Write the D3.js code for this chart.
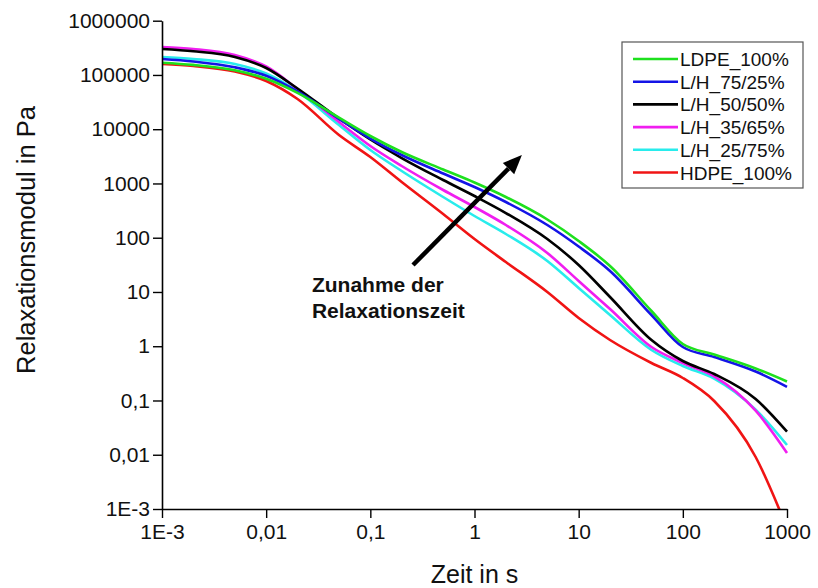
<!DOCTYPE html>
<html>
<head>
<meta charset="utf-8">
<script src="https://cdn.jsdelivr.net/npm/d3@7"></script>
<style>
  body { margin: 0; background: #fff; }
  text { font-family: Arial, "Liberation Sans", sans-serif; }
</style>
</head>
<body>
<svg id="chart" width="818" height="588"></svg>
<script>
// Relaxation modulus G(t) in Pa over time t in s, LDPE/HDPE blends
const times = [0.001, 0.002, 0.005, 0.01, 0.02, 0.05, 0.1, 0.2, 0.5, 1, 2, 5, 10, 20, 50, 100, 200, 500, 1000];

const ldpe100 = [168000, 153200, 121800, 84900, 46700, 16300, 7495, 3800, 1808, 1041, 563, 216.7, 87.0, 30.1, 4.46, 1.099, 0.707, 0.390, 0.224];
const lh7525  = [196800, 177000, 138400, 96500, 49550, 15550, 6740, 3346, 1526, 860.5, 455.2, 171.6, 68.9, 24.35, 3.763, 0.968, 0.633, 0.342, 0.1788];
const lh5050  = [300900, 272800, 214200, 134300, 56260, 15750, 6461, 2946, 1158, 587.3, 285.5, 94.7, 31.42, 8.08, 1.302, 0.534, 0.3078, 0.1065, 0.02658];
const lh3565  = [327500, 300900, 233200, 143100, 55080, 13570, 4903, 2098, 757.7, 368.3, 171.6, 52.3, 15.93, 4.857, 0.968, 0.4907, 0.278, 0.0648, 0.01076];
const lh2575  = [214200, 196800, 159200, 106300, 49550, 11950, 4139, 1697, 563, 251.4, 117.1, 37.23, 11.84, 3.763, 0.852, 0.432, 0.2532, 0.0679, 0.01512];
const hdpe100 = [159200, 146200, 115800, 77360, 36030, 7820, 3073, 1064, 273.6, 94.7, 35.68, 9.99, 3.314, 1.302, 0.4907, 0.2598, 0.0979, 0.00909, 0.000446];

const seriesNames  = ["LDPE_100%", "L/H_75/25%", "L/H_50/50%", "L/H_35/65%", "L/H_25/75%", "HDPE_100%"];
const seriesValues = [ldpe100, lh7525, lh5050, lh3565, lh2575, hdpe100];
const seriesColors = ["#1ee01e", "#1414e6", "#000000", "#f01ef0", "#28ecec", "#f01414"];

const xTickValues = [1e-3, 1e-2, 1e-1, 1, 10, 100, 1000];
const xTickLabels = ["1E-3", "0,01", "0,1", "1", "10", "100", "1000"];
const yTickValues = [1e-3, 1e-2, 1e-1, 1, 10, 100, 1000, 10000, 100000, 1000000];
const yTickLabels = ["1E-3", "0,01", "0,1", "1", "10", "100", "1000", "10000", "100000", "1000000"];

const xTitle = "Zeit in s";
const yTitle = "Relaxationsmodul in Pa";
const noteLines = ["Zunahme der", "Relaxationszeit"];
// arrow from tail to head, in data units (t, G)
const arrowTail = [0.257, 31.4];
const arrowHead = [2.85, 3340];
const noteAnchor = [0.0275, 10];

const svg = d3.select("#chart");
const plot = { left: 162, right: 787, top: 20.7, bottom: 509 };

const x = d3.scaleLog().domain([1e-3, 1e3]).range([plot.left, plot.right]);
const y = d3.scaleLog().domain([1e-3, 1e6]).range([plot.bottom, plot.top]);

function minorTicks(lo, hi) {
  const out = [];
  for (let e = Math.log10(lo); e < Math.log10(hi); e++) {
    for (let k = 2; k <= 9; k++) out.push(k * Math.pow(10, e));
  }
  return out;
}

svg.append("defs").append("clipPath").attr("id", "plotClip")
  .append("rect")
  .attr("x", plot.left).attr("y", plot.top - 5)
  .attr("width", plot.right - plot.left + 5)
  .attr("height", plot.bottom - plot.top + 5);

// curves (HDPE first so LDPE sits on top)
const line = d3.line()
  .x(d => x(d.t))
  .y(d => y(d.g))
  .curve(d3.curveMonotoneX);

const curves = svg.append("g").attr("clip-path", "url(#plotClip)");
for (let i = seriesNames.length - 1; i >= 0; i--) {
  const pts = times.map((t, j) => ({ t, g: seriesValues[i][j] }));
  curves.append("path")
    .datum(pts)
    .attr("fill", "none")
    .attr("stroke", seriesColors[i])
    .attr("stroke-width", 2.6)
    .attr("stroke-linejoin", "round")
    .attr("d", line);
}

// axes
const xAxisG = svg.append("g").attr("transform", `translate(0,${plot.bottom})`);
xAxisG.call(d3.axisBottom(x).tickValues(minorTicks(1e-3, 1e3)).tickSize(5).tickFormat("").tickSizeOuter(0));
xAxisG.call(d3.axisBottom(x).tickValues(xTickValues).tickSize(9).tickPadding(6)
  .tickFormat((d, i) => xTickLabels[i]).tickSizeOuter(0));

const yAxisG = svg.append("g").attr("transform", `translate(${plot.left},0)`);
yAxisG.call(d3.axisLeft(y).tickValues(minorTicks(1e-3, 1e6)).tickSize(5).tickFormat("").tickSizeOuter(0));
yAxisG.call(d3.axisLeft(y).tickValues(yTickValues).tickSize(9).tickPadding(3)
  .tickFormat((d, i) => yTickLabels[i]).tickSizeOuter(0));

svg.selectAll(".domain").attr("stroke", "#000").attr("stroke-width", 1.6);
svg.selectAll(".tick line").attr("stroke", "#000").attr("stroke-width", 1.4);
svg.selectAll(".tick text")
  .attr("font-size", 21)
  .attr("fill", "#111")
  .style("font-family", "Arial, 'Liberation Sans', sans-serif");

// axis titles
svg.append("text")
  .attr("x", (plot.left + plot.right) / 2)
  .attr("y", 583)
  .attr("text-anchor", "middle")
  .attr("font-size", 25)
  .attr("fill", "#111")
  .text(xTitle);

svg.append("text")
  .attr("transform", "translate(35,240) rotate(-90)")
  .attr("text-anchor", "middle")
  .attr("font-size", 25.5)
  .attr("fill", "#111")
  .text(yTitle);

// legend
const legend = svg.append("g");
legend.append("rect")
  .attr("x", 622).attr("y", 42)
  .attr("width", 181).attr("height", 146)
  .attr("fill", "#fff").attr("stroke", "#555").attr("stroke-width", 1.2);
seriesNames.forEach((name, i) => {
  const cy = 59 + i * 22.7;
  legend.append("line")
    .attr("x1", 633).attr("x2", 678)
    .attr("y1", cy).attr("y2", cy)
    .attr("stroke", seriesColors[i]).attr("stroke-width", 2.6);
  legend.append("text")
    .attr("x", 680).attr("y", cy + 7)
    .attr("font-size", 19)
    .attr("fill", "#111")
    .text(name);
});

// annotation arrow
const [tx, ty] = [x(arrowTail[0]), y(arrowTail[1])];
const [hx, hy] = [x(arrowHead[0]), y(arrowHead[1])];
const ang = Math.atan2(hy - ty, hx - tx);
const headLen = 19, headHalf = 8;
const bx = hx - headLen * Math.cos(ang), by = hy - headLen * Math.sin(ang);
svg.append("line")
  .attr("x1", tx).attr("y1", ty).attr("x2", bx).attr("y2", by)
  .attr("stroke", "#000").attr("stroke-width", 4.5);
svg.append("path")
  .attr("d", `M${hx},${hy}L${bx + headHalf * Math.sin(ang)},${by - headHalf * Math.cos(ang)}L${bx - headHalf * Math.sin(ang)},${by + headHalf * Math.cos(ang)}Z`)
  .attr("fill", "#000");

const note = svg.append("text")
  .attr("x", x(noteAnchor[0]))
  .attr("y", y(noteAnchor[1]))
  .attr("font-size", 21)
  .attr("font-weight", "bold")
  .attr("fill", "#111");
noteLines.forEach((s, i) => {
  note.append("tspan").attr("x", x(noteAnchor[0])).attr("dy", i === 0 ? 0 : 26).text(s);
});
</script>
</body>
</html>
